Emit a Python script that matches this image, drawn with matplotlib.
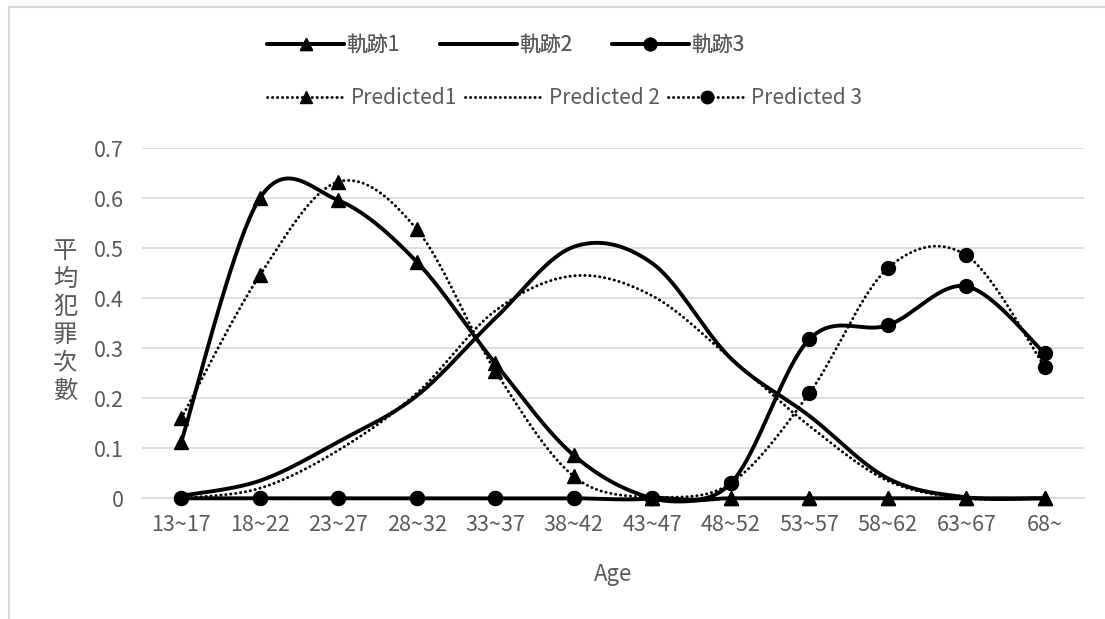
import numpy as np
import matplotlib
matplotlib.use("Agg")
import matplotlib.pyplot as plt
from matplotlib.lines import Line2D

plt.rcParams["font.family"] = ["Noto Sans CJK TC", "DejaVu Sans"]

ages = ["13~17", "18~22", "23~27", "28~32", "33~37", "38~42",
        "43~47", "48~52", "53~57", "58~62", "63~67", "68~"]

traj1 = [0.113, 0.600, 0.596, 0.473, 0.270, 0.086, 0.0, 0.0, 0.0, 0.0, 0.0, 0.0]
traj2 = [0.005, 0.035, 0.113, 0.205, 0.360, 0.503, 0.470, 0.280, 0.165, 0.040, 0.002, 0.0]
traj3 = [0.0, 0.0, 0.0, 0.0, 0.0, 0.0, 0.0, 0.030, 0.318, 0.346, 0.424, 0.290]
pred1 = [0.160, 0.446, 0.633, 0.538, 0.255, 0.044, 0.0, 0.0, 0.0, 0.0, 0.0, 0.0]
pred2 = [0.0, 0.020, 0.096, 0.210, 0.375, 0.445, 0.405, 0.280, 0.145, 0.035, 0.0, 0.0]
pred3 = [0.0, 0.0, 0.0, 0.0, 0.0, 0.0, 0.0, 0.030, 0.210, 0.460, 0.486, 0.263]

GRAY = "#595959"
GRID = "#d9d9d9"


def smooth(xs, ys, n=40):
    # Excel-style smoothed line: cubic Bezier segments with 1/6 tangents
    pts = np.column_stack([xs, ys]).astype(float)
    P = np.vstack([pts[0], pts, pts[-1]])
    t = np.linspace(0, 1, n)[:, None]
    out = []
    for i in range(len(pts) - 1):
        p0, p1, p2, p3 = P[i], P[i + 1], P[i + 2], P[i + 3]
        c1 = p1 + (p2 - p0) / 6
        c2 = p2 - (p3 - p1) / 6
        seg = ((1 - t) ** 3 * p1 + 3 * (1 - t) ** 2 * t * c1
               + 3 * (1 - t) * t ** 2 * c2 + t ** 3 * p2)
        out.append(seg if i == 0 else seg[1:])
    seg = np.vstack(out)
    return seg[:, 0], seg[:, 1]


x = np.arange(len(ages))

fig = plt.figure(figsize=(11.05, 6.19), dpi=100)
ax = fig.add_axes([0.1285, 0.195, 0.8525, 0.5654])

dot = dict(ls=(0, (0.1, 1.6)), dash_capstyle="round", lw=2.1, color="black")
solid = dict(ls="-", lw=2.8, color="black", solid_capstyle="round")

series = [
    (traj1, solid, "^", "軌跡1"),
    (traj2, solid, None, "軌跡2"),
    (traj3, solid, "o", "軌跡3"),
    (pred1, dot, "^", "Predicted1"),
    (pred2, dot, None, "Predicted 2"),
    (pred3, dot, "o", "Predicted 3"),
]

handles = []
for ys, style, mk, name in series:
    sx, sy = smooth(x, ys)
    ax.plot(sx, sy, zorder=3, clip_on=False, **style)
    ms = 10 if mk == "o" else 10
    if mk:
        ax.plot(x, ys, ls="none", marker=mk, ms=ms, color="black",
                zorder=4, clip_on=False)
    handles.append(Line2D([], [], marker=mk, ms=ms - 1,
                          markerfacecolor="black", markeredgecolor="black",
                          label=name, **style))

ax.set_xlim(-0.5, len(ages) - 0.5)
ax.set_ylim(0, 0.7)
ax.set_yticks(np.arange(0, 0.71, 0.1))
ax.set_yticklabels(["0" if v == 0 else f"{v:.1f}" for v in np.arange(0, 0.71, 0.1)])
ax.set_xticks(x)
ax.set_xticklabels(ages)
ax.tick_params(length=0, labelsize=15.5, labelcolor=GRAY)
ax.tick_params(axis="y", pad=13)
ax.tick_params(axis="x", pad=11)
ax.grid(axis="y", color=GRID, lw=1.2)
ax.set_axisbelow(True)
for side in ["top", "right", "left"]:
    ax.spines[side].set_visible(False)
ax.spines["bottom"].set_color(GRID)
ax.spines["bottom"].set_linewidth(1.2)

ax.set_xlabel("Age", fontsize=16, color=GRAY, labelpad=20)
fig.text(0.059, 0.482, "平\n均\n犯\n罪\n次\n數", fontsize=17.5, color=GRAY,
         ha="center", va="center", linespacing=1.1)

leg1 = fig.legend(handles=handles[:3], loc="center left",
                  bbox_to_anchor=(0.242, 1 - 45 / 619), ncol=3, frameon=False,
                  fontsize=15, handlelength=3.7, handletextpad=0.1,
                  columnspacing=1.9, labelcolor=GRAY, borderaxespad=0,
                  borderpad=0)
fig.legend(handles=handles[3:], loc="center left",
           bbox_to_anchor=(0.242, 1 - 98 / 619), ncol=3, frameon=False,
           fontsize=15, handlelength=3.7, handletextpad=0.3,
           columnspacing=0.4, labelcolor=GRAY, borderaxespad=0, borderpad=0)
fig.add_artist(leg1)

# chart frame edges
fig.add_artist(Line2D([9 / 1105, 1], [1 - 7 / 619] * 2, color=GRID, lw=1.5,
                      transform=fig.transFigure))
fig.add_artist(Line2D([9 / 1105] * 2, [0, 1 - 7 / 619], color=GRID, lw=1.5,
                      transform=fig.transFigure))

fig.savefig("out.png", dpi=100)
